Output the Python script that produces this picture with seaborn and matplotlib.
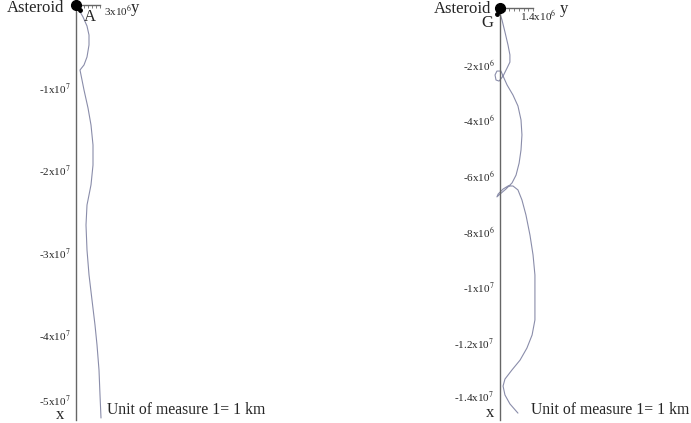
import numpy as np
import pandas as pd
import seaborn as sns
import matplotlib.pyplot as plt
from matplotlib.transforms import ScaledTranslation

sns.set_style('white')
plt.rcParams['font.family'] = ['Liberation Serif', 'DejaVu Serif']
plt.rcParams['mathtext.fontset'] = 'stix'

# ---------------- data ----------------
# Left panel: asteroid A (horizontal y in km, vertical x in km)
a_y = np.array([0, 0.375, 0.875, 1.375, 1.625, 1.625, 1.375, 1.0, 0.5, 0.625, 1.0, 1.5,
                1.875, 2.125, 2.125, 1.875, 1.5, 1.375, 1.25, 1.375, 1.625, 2.0, 2.375,
                2.625, 2.875, 3.0, 3.125]) * 1e6
a_x = np.array([0, -0.06, -0.145, -0.255, -0.364, -0.485, -0.63, -0.727, -0.788, -0.848,
                -1.03, -1.248, -1.455, -1.697, -1.94, -2.18, -2.364, -2.424, -2.667, -2.97,
                -3.27, -3.576, -3.879, -4.12, -4.424, -4.727, -5.006]) * 1e7
a_major = np.array([-1, -2, -3, -4, -5]) * 1e7
a_labels = ['-1x10$^{7}$', '-2x10$^{7}$', '-3x10$^{7}$', '-4x10$^{7}$', '-5x10$^{7}$']
a_yend = 3e6
a_yend_label = '3x10$^{6}$'

# Right panel: asteroid G
g_y = np.array([0, 0.085, 0.21, 0.34, 0.42, 0.42, 0.30, 0.13, -0.04, -0.17, -0.21, -0.13,
                0.04, 0.13, 0.30, 0.55, 0.76, 0.89, 0.93, 0.89, 0.81, 0.68, 0.51, 0.25, 0.0,
                -0.13, -0.08, 0.13, 0.34, 0.55, 0.76, 0.93, 1.10, 1.27, 1.40, 1.48, 1.48,
                1.48, 1.36, 1.14, 0.85, 0.51, 0.21, 0.13, 0.21, 0.42, 0.76]) * 1e6
g_x = np.array([-0.215, -0.43, -0.86, -1.33, -1.68, -1.94, -2.15, -2.44, -2.62, -2.58,
                -2.40, -2.26, -2.26, -2.44, -2.76, -3.12, -3.51, -4.01, -4.55, -5.09,
                -5.56, -5.99, -6.27, -6.49, -6.67, -6.77, -6.67, -6.49, -6.38, -6.38,
                -6.52, -6.88, -7.42, -8.14, -8.85, -9.57, -10.47, -11.18, -11.72, -12.19,
                -12.62, -12.97, -13.30, -13.55, -13.87, -14.19, -14.52]) * 1e6
g_major = np.array([-2, -4, -6, -8, -10, -12, -14]) * 1e6
g_labels = ['-2x10$^{6}$', '-4x10$^{6}$', '-6x10$^{6}$', '-8x10$^{6}$',
            '-1x10$^{7}$', '-1.2x10$^{7}$', '-1.4x10$^{7}$']
g_yend = 1.4e6
g_yend_label = '1.4x10$^{6}$'

unit_text = 'Unit of measure 1= 1 km'

# ---------------- figure ----------------
W, H = 691, 423
fig = plt.figure(figsize=(W / 100, H / 100), dpi=100)
axL = fig.add_axes([0, 0, 345 / W, 1])
axR = fig.add_axes([345 / W, 0, 346 / W, 1])

line_col = '#8a8daa'
axis_col = '#666666'

def setup(ax, xs, ys, xlim, ylim, vbottom, yend, major, minor_step, labels,
          hstep, shift_last=0):
    df = pd.DataFrame({'y': ys, 'x': xs})
    sns.lineplot(data=df, x='y', y='x', sort=False, estimator=None, ax=ax,
                 color=line_col, lw=0.8)
    ax.set_xlim(*xlim)
    ax.set_ylim(*ylim)
    for s in ['right', 'bottom']:
        ax.spines[s].set_visible(False)
    ax.spines['left'].set_position(('data', 0))
    ax.spines['left'].set_bounds(vbottom, 0)
    ax.spines['top'].set_position(('data', 0))
    ax.spines['top'].set_bounds(0, yend)
    for s in ['left', 'top']:
        ax.spines[s].set_color(axis_col)
        ax.spines[s].set_linewidth(1.0)
    ax.set_yticks(major, labels)
    ax.set_yticks(np.arange(0, vbottom, -minor_step)[1:], minor=True)
    ax.tick_params(axis='y', which='major', direction='inout', length=4, width=0.8,
                   color=axis_col, labelsize=8, pad=2)
    ax.tick_params(axis='y', which='minor', direction='inout', length=3, width=0.6,
                   color=axis_col)
    ax.xaxis.set_ticks_position('top')
    hticks = np.arange(hstep, yend + 1, hstep)
    ax.set_xticks(hticks, [''] * len(hticks))
    ax.tick_params(axis='x', which='major', direction='in', length=2, width=0.6,
                   color=axis_col)
    ax.set_xlabel('')
    ax.set_ylabel('')
    if shift_last:
        lab = ax.get_yticklabels()[-1]
        lab.set_transform(lab.get_transform() + ScaledTranslation(0, shift_last / 100, fig.dpi_scale_trans))
    ax.plot([0], [0], 'o', color='black', ms=7, clip_on=False, zorder=5)

# Left
setup(axL, a_x, a_y, (-76 / 8 * 1e6, 269 / 8 * 1e6), (-418 / 82.5 * 1e7, 5 / 82.5 * 1e7),
      -415 / 82.5 * 1e7, a_yend, a_major, 2e6, a_labels, 0.5e6, shift_last=18)
# Right
setup(axR, g_x, g_y, (-155 / 23.6 * 1e6, 191 / 23.6 * 1e6), (-415 / 27.9 * 1e6, 8 / 27.9 * 1e6),
      -412 / 27.9 * 1e6, g_yend, g_major, 0.5e6, g_labels, 0.2e6, shift_last=3)

# annotations (pixel offsets from the data origin)
def px(ax, dx, dy):
    return ax.transData + ScaledTranslation(dx / 100, -dy / 100, fig.dpi_scale_trans)

fs_big = 12
fs_unit = 11.3
# Left panel texts
axL.text(0, 0, 'Asteroid', transform=px(axL, -12, 3), ha='right', va='center', fontsize=fs_big)
axL.text(0, 0, 'A', transform=px(axL, 14, 12), ha='center', va='center', fontsize=fs_big)
axL.plot([0.5e6], [-0.06e7], 'o', color='black', ms=2.5)
axL.text(0, 0, a_yend_label, transform=px(axL, 28, 6), ha='left', va='center', fontsize=8)
axL.text(0, 0, 'y', transform=px(axL, 59, 3), ha='center', va='center', fontsize=fs_big)
axL.text(0, 0, 'x', transform=px(axL, -16, 410), ha='center', va='center', fontsize=fs_big)
axL.text(0, 0, unit_text, transform=px(axL, 31, 405), ha='left', va='center', fontsize=fs_unit)

# Right panel texts
axR.text(0, 0, 'Asteroid', transform=px(axR, -9, 1), ha='right', va='center', fontsize=fs_big)
axR.text(0, 0, 'G', transform=px(axR, -13, 15), ha='center', va='center', fontsize=fs_big)
axR.plot([-0.11e6], [-0.22e6], 'o', color='black', ms=2.5)
axR.text(0, 0, g_yend_label, transform=px(axR, 20, 8), ha='left', va='center', fontsize=8)
axR.text(0, 0, 'y', transform=px(axR, 64, 1), ha='center', va='center', fontsize=fs_big)
axR.text(0, 0, 'x', transform=px(axR, -10, 405), ha='center', va='center', fontsize=fs_big)
axR.text(0, 0, unit_text, transform=px(axR, 31, 402), ha='left', va='center', fontsize=fs_unit)

fig.savefig('out.png', dpi=100)
